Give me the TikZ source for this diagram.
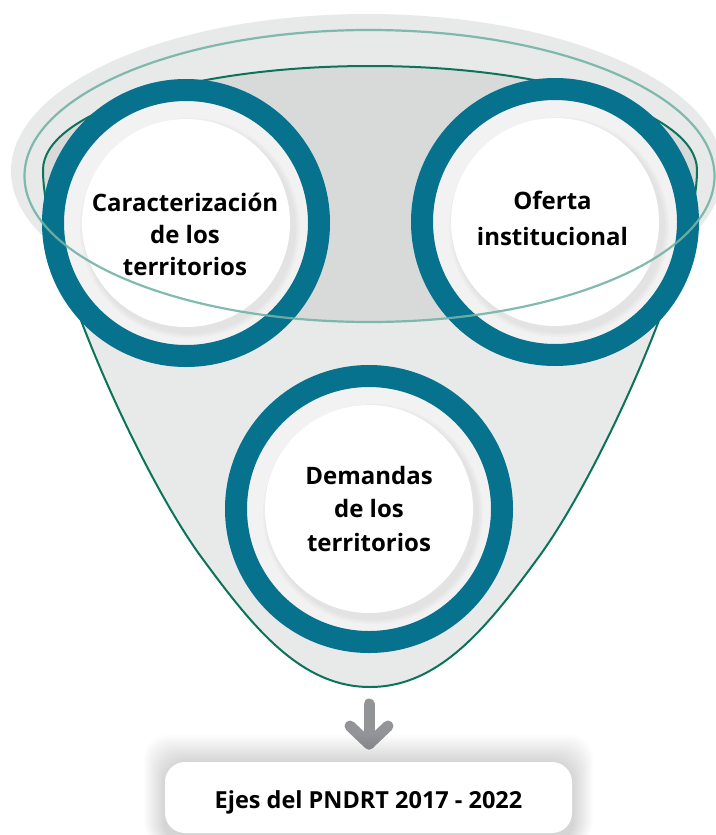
\documentclass[tikz,border=0pt]{standalone}
\usepackage{fontspec}
\setmainfont{Open Sans}
\definecolor{ringteal}{HTML}{06728E}
\definecolor{fgreen}{HTML}{0B7359}
\definecolor{tline}{HTML}{74B3A6}
\definecolor{lgrey}{HTML}{E8E9E9}
\definecolor{dgrey}{HTML}{D8DADA}
\definecolor{band}{HTML}{F2F2F2}
\definecolor{agrey}{HTML}{929497}
\tikzset{
  circtext/.style={align=center, inner sep=0pt, text=black, font=\bfseries\fontsize{24}{33}\selectfont},
  ejesbox/.style={fill=white, rounded corners=20pt, minimum width=407pt, minimum height=71pt, inner sep=0pt},
  ejestext/.style={inner sep=0pt, text=black, font=\bfseries\fontsize{23.5}{28}\selectfont},
  arrowline/.style={draw=agrey, line width=11pt, line cap=round, line join=round},
}
\begin{document}
\begin{tikzpicture}[x=1pt,y=-1pt]
\useasboundingbox (0,0) rectangle (715,835);
% outer light ellipse
\fill[lgrey] (367,171) ellipse [x radius=356pt, y radius=157pt];
% funnel
\def\funnel{(43,170) .. controls (43,112.6) and (189.4,66) .. (370,66) .. controls (550.6,66) and (697,112.6) .. (697,170) .. controls (697,260) and (598,477) .. (538,558) .. controls (488,626) and (440,687) .. (370,687) .. controls (300,687) and (252,626) .. (202,558) .. controls (142,477) and (43,260) .. (43,170) -- cycle}
\fill[lgrey] \funnel;
\begin{scope}
  \clip \funnel;
  \fill[dgrey] (369.5,176) ellipse [x radius=345pt, y radius=146pt];
\end{scope}
\draw[fgreen, line width=2pt] \funnel;
% circles
\foreach \cx/\cy in {186/223, 555/222, 369/509}{
  \fill[band] (\cx,\cy) circle (122pt);
  \foreach \r in {110,108,106}{
    \fill[black, opacity=0.018] (\cx+4,\cy+5) circle (\r pt);
  }
  \fill[white] (\cx,\cy) circle (104pt);
  \draw[ringteal, line width=22pt] (\cx,\cy) circle (133pt);
}
% teal ellipse on top
\draw[tline, line width=2.2pt, opacity=0.9] (369.5,176) ellipse [x radius=345pt, y radius=146pt];
% texts
\node[circtext, font=\bfseries\fontsize{24}{32}\selectfont] (carac) at (185,234) {Caracterización\\de los\\territorios};
\node[circtext, font=\bfseries\fontsize{24}{36}\selectfont] (oferta) at (552.5,218) {Oferta\\institucional};
\node[circtext, font=\bfseries\fontsize{24}{33.5}\selectfont] (demandas) at (369,508.5) {Demandas\\de los\\territorios};
% arrow
\coordinate (astart) at (369,704);
\coordinate (atip) at (369,744);
\coordinate (aleft) at (350,726);
\coordinate (aright) at (388,726);
\draw[arrowline] (astart) -- (atip);
\draw[arrowline] (aleft) -- (atip) -- (aright);
% box shadow
\foreach \i in {1,...,14}{
  \fill[black, opacity=0.01, rounded corners=24pt] (165-\i*1.5, 763-\i*2) rectangle (572+\i*1.5, 845);
}
\node[ejesbox] (ejes) at (368.5,797.5) {};
\node[ejestext, anchor=base] (ejestxt) at (368.5,808) {Ejes del PNDRT 2017 - 2022};
\end{tikzpicture}
\end{document}
